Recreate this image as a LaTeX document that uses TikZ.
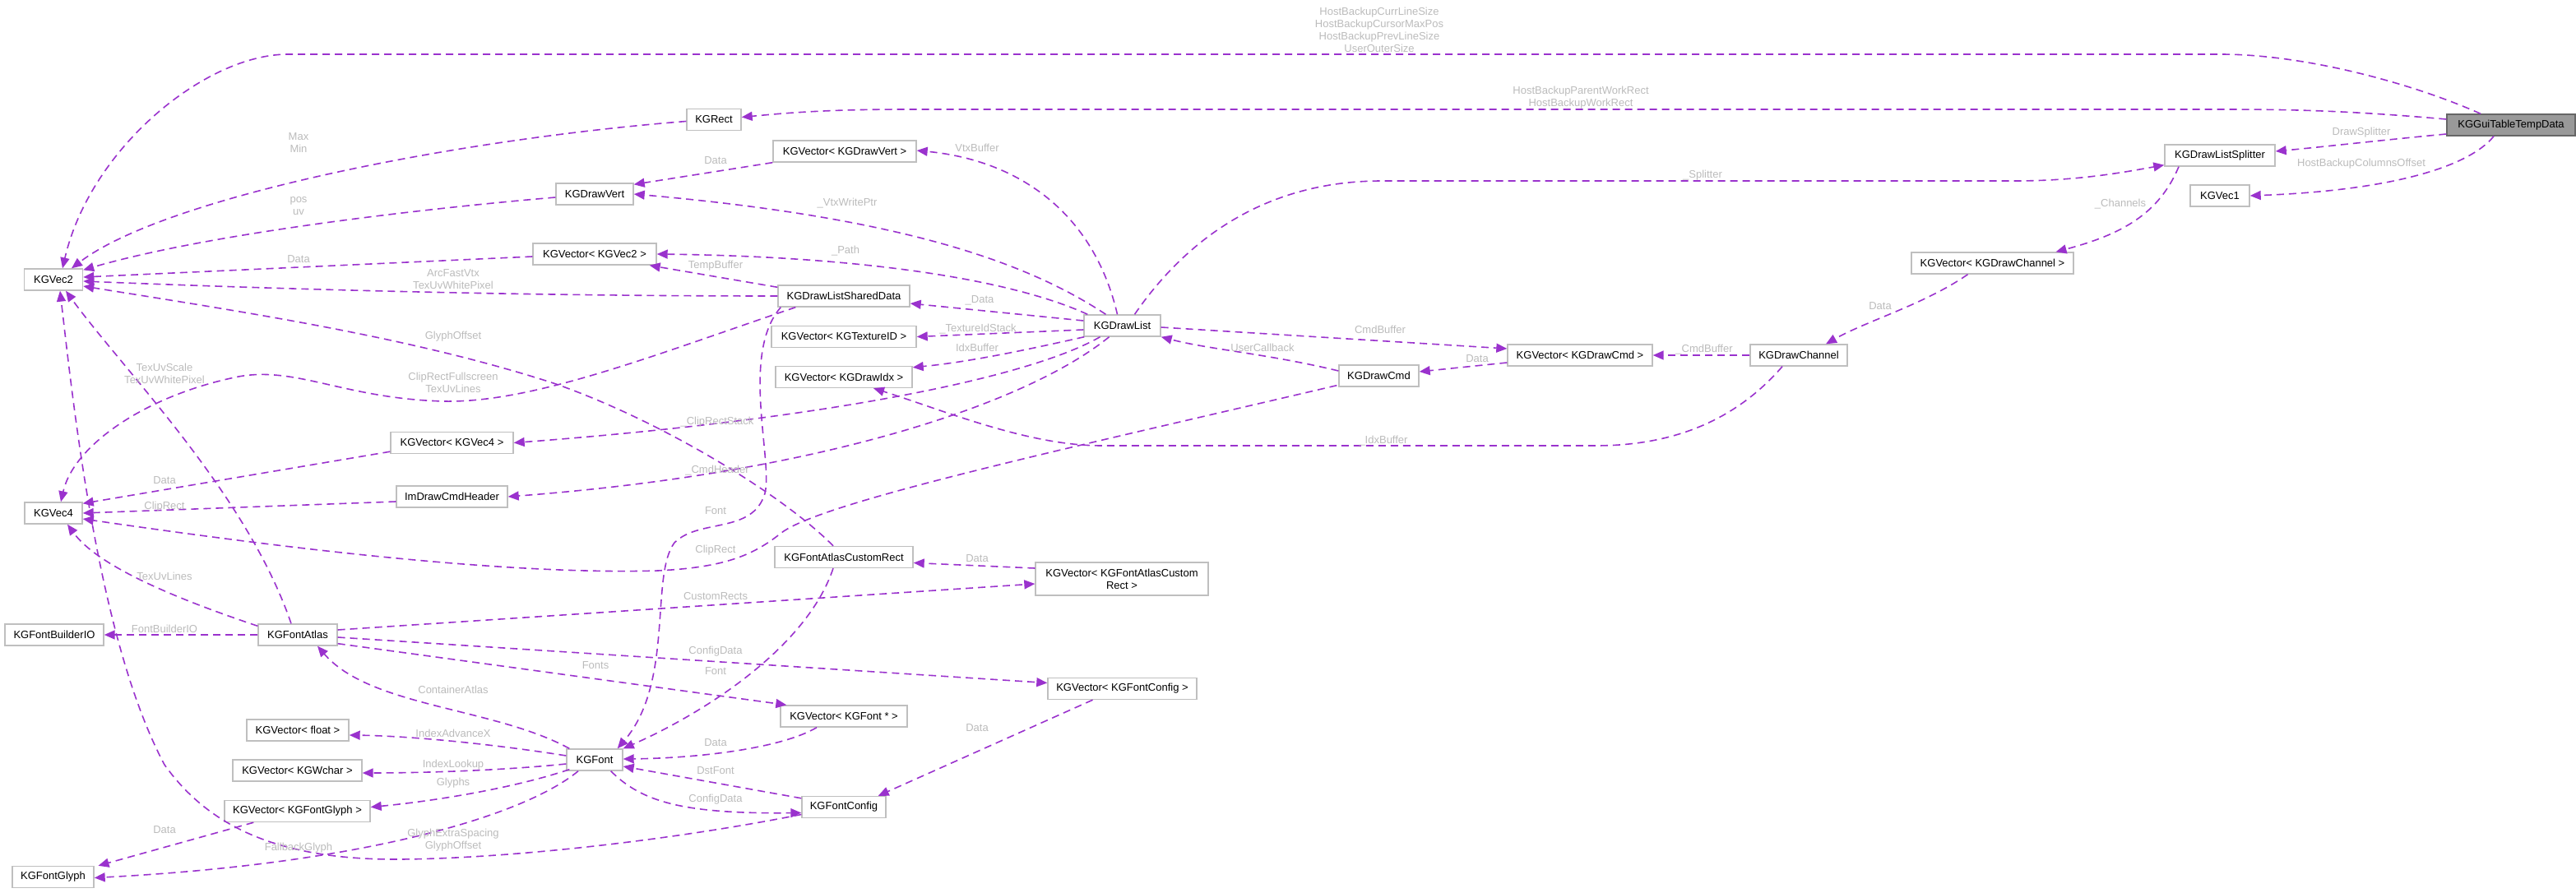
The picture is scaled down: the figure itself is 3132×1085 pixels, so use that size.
\documentclass[tikz,border=0pt]{standalone}
\usepackage{fontspec}
\setmainfont{Liberation Sans}
\usetikzlibrary{arrows.meta,calc}
\definecolor{edgec}{HTML}{9A32CD}
\definecolor{lblc}{HTML}{BBBBBB}
\definecolor{boxc}{HTML}{BFBFBF}
\definecolor{rootfill}{HTML}{999999}
\definecolor{rootdraw}{HTML}{666666}
\begin{document}
\begin{tikzpicture}[x=1pt,y=-1pt,
  every node/.style={font=\fontsize{13}{15}\selectfont},
  box/.style={draw=boxc,fill=white,line width=1.4pt,minimum height=26pt,inner sep=0pt,anchor=center,text=black},
  edge/.style={draw=edgec,line width=1.6pt,dash pattern=on 9pt off 6pt,-{Triangle[length=13pt,width=11pt]}},
  lbl/.style={text=lblc,align=center,inner sep=0pt}]
\useasboundingbox (0,0) rectangle (3132,1085);
% nodes
\node[box,minimum width=156pt,fill=rootfill,draw=rootdraw] (root) at (3053,152) {KGGuiTableTempData};
\node[box,minimum width=134pt] (splitter) at (2699,189) {KGDrawListSplitter};
\node[box,minimum width=72pt] (vec1) at (2699,238) {KGVec1};
\node[box,minimum width=197pt] (vchan) at (2422.5,320) {KGVector< KGDrawChannel >};
\node[box,minimum width=118pt] (chan) at (2187,432) {KGDrawChannel};
\node[box,minimum width=176pt] (vcmd) at (1921,432) {KGVector< KGDrawCmd >};
\node[box,minimum width=97pt] (cmd) at (1676.5,457) {KGDrawCmd};
\node[box,minimum width=93pt] (dl) at (1364.5,396) {KGDrawList};
\node[box,minimum width=174pt] (vvert) at (1027,184) {KGVector< KGDrawVert >};
\node[box,minimum width=94pt] (vert) at (723,236) {KGDrawVert};
\node[box,minimum width=150pt] (vvec2) at (723,309) {KGVector< KGVec2 >};
\node[box,minimum width=160pt] (dlsd) at (1026,360) {KGDrawListSharedData};
\node[box,minimum width=176pt] (vtex) at (1026,409.5) {KGVector< KGTextureID >};
\node[box,minimum width=166pt] (vidx) at (1026,458.5) {KGVector< KGDrawIdx >};
\node[box,minimum width=149pt] (vvec4) at (549.5,538.5) {KGVector< KGVec4 >};
\node[box,minimum width=135pt] (hdr) at (549.5,604) {ImDrawCmdHeader};
\node[box,minimum width=70pt] (vec4) at (65,624) {KGVec4};
\node[box,minimum width=71pt] (vec2) at (65,340) {KGVec2};
\node[box,minimum width=66pt] (rect) at (868,145.5) {KGRect};
\node[box,minimum width=168pt] (car) at (1026,677.5) {KGFontAtlasCustomRect};
\node[box,minimum width=210pt,minimum height=40pt,align=center] (vcar) at (1364,704) {KGVector< KGFontAtlasCustom\\Rect >};
\node[box,minimum width=120pt] (fbio) at (66,772) {KGFontBuilderIO};
\node[box,minimum width=96pt] (atlas) at (362,772) {KGFontAtlas};
\node[box,minimum width=181pt] (vcfg) at (1364.5,837.5) {KGVector< KGFontConfig >};
\node[box,minimum width=154pt] (vfont) at (1026,871) {KGVector< KGFont * >};
\node[box,minimum width=124pt] (vfloat) at (362,888) {KGVector< float >};
\node[box,minimum width=157pt] (vwchar) at (361.5,937) {KGVector< KGWchar >};
\node[box,minimum width=177pt] (vglyph) at (361.5,986.5) {KGVector< KGFontGlyph >};
\node[box,minimum width=68pt] (font) at (723,924) {KGFont};
\node[box,minimum width=102pt] (fcfg) at (1026,981.5) {KGFontConfig};
\node[box,minimum width=99pt] (glyph) at (64.5,1066.5) {KGFontGlyph};
% edges
\draw[edge] ($(root.north)+(-37,0)$) .. controls (2930,100) and (2800,66) .. (2700,66) -- (350,66) .. controls (250,66) and (110,180) .. ($(vec2.north)+(11,0)$);
\draw[edge] ($(root.west)+(0,-7)$) .. controls (2850,134) and (2780,133) .. (2700,133) -- (1100,133) .. controls (1000,133) and (950,138) .. ($(rect.east)+(0,-3)$);
\draw[edge] ($(root.west)+(0,11)$) .. controls (2900,170) and (2830,178) .. ($(splitter.east)+(0,-5)$);
\draw[edge] ($(root.south)+(-21,0)$) .. controls (3000,205) and (2900,232) .. (vec1.east);
\draw[edge] ($(splitter.south)+(-50,0)$) .. controls (2625,260) and (2580,285) .. ($(vchan.north)+(77,0)$);
\draw[edge] ($(vchan.south)+(-30,0)$) .. controls (2340,370) and (2270,390) .. ($(chan.north)+(33,0)$);
\draw[edge] (chan.west) -- (vcmd.east);
\draw[edge] ($(chan.south)+(-20,0)$) .. controls (2120,500) and (2050,542) .. (1940,542) -- (1340,542) .. controls (1250,542) and (1150,500) .. ($(vidx.south)+(36,0)$);
\draw[edge] ($(dl.north)+(15,0)$) .. controls (1450,280) and (1550,220) .. (1680,220) -- (2450,220) .. controls (2530,220) and (2590,208) .. ($(splitter.south west)+(0,-2)$);
\draw[edge] ($(dl.north)+(-6,0)$) .. controls (1330,260) and (1240,195) .. ($(vvert.east)+(0,-1)$);
\draw[edge] ($(dl.north)+(-20,0)$) .. controls (1250,320) and (1100,265) .. (vert.east);
\draw[edge] ($(dl.north west)+(5,0)$) .. controls (1230,340) and (1050,312) .. (vvec2.east);
\draw[edge] ($(dl.west)+(0,-6)$) -- ($(dlsd.east)+(0,9)$);
\draw[edge] ($(dl.west)+(0,5)$) -- (vtex.east);
\draw[edge] ($(dl.south west)+(1,0)$) .. controls (1250,425) and (1180,440) .. ($(vidx.north east)+(0,2)$);
\draw[edge] ($(dl.south)+(-27,0)$) .. controls (1250,460) and (1000,510) .. (vvec4.east);
\draw[edge] ($(dl.south)+(-16,0)$) .. controls (1250,490) and (1000,575) .. (hdr.east);
\draw[edge] ($(dl.east)+(0,2)$) -- ($(vcmd.west)+(0,-8)$);
\draw[edge] ($(cmd.west)+(0,-6)$) .. controls (1540,430) and (1470,425) .. (dl.south east);
\draw[edge] ($(vcmd.west)+(0,9)$) -- ($(cmd.east)+(0,-5)$);
\draw[edge] ($(cmd.south west)+(-2,-2)$) .. controls (1300,545) and (1000,610) .. (950,648) .. controls (915,676) and (880,690) .. (800,694) .. controls (600,700) and (300,660) .. ($(vec4.east)+(0,7)$);
\draw[edge] ($(dlsd.north west)+(0,3)$) -- ($(vvec2.south east)+(-9,0)$);
\draw[edge] (dlsd.west) .. controls (600,360) and (300,350) .. ($(vec2.east)+(0,2)$);
\draw[edge] ($(dlsd.south west)+(22,0)$) .. controls (800,430) and (650,490) .. (540,488) .. controls (420,485) and (360,445) .. (290,458) .. controls (180,480) and (90,540) .. ($(vec4.north)+(9,0)$);
\draw[edge] ($(dlsd.south west)+(4,0)$) .. controls (900,430) and (940,560) .. (930,600) .. controls (915,650) and (850,630) .. (820,660) .. controls (790,700) and (820,830) .. ($(font.north east)+(-7,0)$);
\draw[edge] ($(car.north)+(-13,0)$) .. controls (950,600) and (800,510) .. (673,466) .. controls (500,410) and (300,380) .. ($(vec2.east)+(0,8)$);
\draw[edge] ($(vcar.west)+(0,-13)$) -- ($(car.east)+(0,7)$);
\draw[edge] ($(car.south)+(-13,0)$) .. controls (980,790) and (850,870) .. (font.north east);
\draw[edge] (vvert.south west) -- ($(vert.north east)+(0,2)$);
\draw[edge] ($(vert.west)+(0,4)$) .. controls (500,255) and (250,285) .. ($(vec2.north east)+(0,2)$);
\draw[edge] ($(vvec2.west)+(0,3)$) -- ($(vec2.east)+(0,-3)$);
\draw[edge] ($(rect.west)+(0,2)$) .. controls (550,170) and (200,240) .. ($(vec2.north)+(22,0)$);
\draw[edge] ($(vvec4.south west)+(0,-3)$) -- ($(vec4.north east)+(0,2)$);
\draw[edge] ($(hdr.west)+(0,6)$) -- (vec4.east);
\draw[edge] ($(atlas.north west)+(0,3)$) .. controls (220,730) and (120,690) .. ($(vec4.south)+(17,0)$);
\draw[edge] ($(atlas.north)+(-8,0)$) .. controls (300,600) and (150,450) .. ($(vec2.south)+(15,0)$);
\draw[edge] (atlas.west) -- (fbio.east);
\draw[edge] ($(atlas.east)+(0,-6)$) -- ($(vcar.west)+(0,6)$);
\draw[edge] ($(atlas.east)+(0,3)$) -- ($(vcfg.west)+(0,-7)$);
\draw[edge] ($(atlas.south east)+(0,-3)$) -- ($(vfont.north west)+(8,0)$);
\draw[edge] ($(font.north west)+(4,0)$) .. controls (600,860) and (450,860) .. ($(atlas.south)+(24,0)$);
\draw[edge] ($(font.west)+(0,-5)$) .. controls (600,905) and (500,895) .. ($(vfloat.east)+(0,6)$);
\draw[edge] ($(font.west)+(0,5)$) .. controls (600,938) and (500,940) .. ($(vwchar.east)+(0,3)$);
\draw[edge] ($(font.south west)+(4,-2)$) .. controls (620,960) and (520,975) .. ($(vglyph.east)+(0,-5)$);
\draw[edge] ($(font.south)+(-20,0)$) .. controls (640,990) and (450,1050) .. ($(glyph.east)+(0,1)$);
\draw[edge] ($(fcfg.west)+(0,9)$) .. controls (800,1025) and (600,1045) .. (480,1045) .. controls (330,1045) and (250,1000) .. (200,930) .. controls (120,780) and (90,500) .. ($(vec2.south)+(8,0)$);
\draw[edge] ($(vglyph.south west)+(36,0)$) -- ($(glyph.north)+(55,0)$);
\draw[edge] ($(vfont.south)+(-33,0)$) .. controls (950,910) and (850,922) .. ($(font.east)+(0,-1)$);
\draw[edge] ($(fcfg.north west)+(0,3)$) -- ($(font.east)+(0,8)$);
\draw[edge] ($(font.south east)+(-15,0)$) .. controls (780,975) and (830,990) .. ($(fcfg.west)+(0,7)$);
\draw[edge] ($(vcfg.south)+(-36,0)$) -- ($(fcfg.north east)+(-10,0)$);
% labels
\node[lbl] (l1) at (1677,36) {HostBackupCurrLineSize\\HostBackupCursorMaxPos\\HostBackupPrevLineSize\\UserOuterSize};
\node[lbl] (l2) at (1922,119) {HostBackupParentWorkRect\\HostBackupWorkRect};
\node[lbl] (l3) at (2871,161) {DrawSplitter};
\node[lbl] (l4) at (2871,199) {HostBackupColumnsOffset};
\node[lbl] (l5) at (2578,248) {\_Channels};
\node[lbl] (l6) at (2286,372) {Data};
\node[lbl] (l7) at (2072,425) {\_CmdBuffer};
\node[lbl] (l8) at (1682,536) {\_IdxBuffer};
\node[lbl] (l9) at (2070,213) {\_Splitter};
\node[lbl] (l10) at (1188,180) {VtxBuffer};
\node[lbl] (l11) at (1030,247) {\_VtxWritePtr};
\node[lbl] (l12) at (1028,305) {\_Path};
\node[lbl] (l13) at (1191,365) {\_Data};
\node[lbl] (l14) at (1189,400) {\_TextureIdStack};
\node[lbl] (l15) at (1188,423) {IdxBuffer};
\node[lbl] (l16) at (872,513) {\_ClipRectStack};
\node[lbl] (l17) at (872,572) {\_CmdHeader};
\node[lbl] (l18) at (1678,401) {CmdBuffer};
\node[lbl] (l19) at (1535,423) {UserCallback};
\node[lbl] (l20) at (1796,436) {Data};
\node[lbl] (l21) at (870,669) {ClipRect};
\node[lbl] (l22) at (870,323) {TempBuffer};
\node[lbl] (l23) at (551,340) {ArcFastVtx\\TexUvWhitePixel};
\node[lbl] (l24) at (551,465) {ClipRectFullscreen\\TexUvLines};
\node[lbl] (l25) at (870,621) {Font};
\node[lbl] (l26) at (551,409) {GlyphOffset};
\node[lbl] (l27) at (1188,679) {Data};
\node[lbl] (l28) at (870,816) {Font};
\node[lbl] (l29) at (870,195) {Data};
\node[lbl] (l30) at (363,251) {pos\\uv};
\node[lbl] (l31) at (363,315) {Data};
\node[lbl] (l32) at (363,174) {Max\\Min};
\node[lbl] (l33) at (200,584) {Data};
\node[lbl] (l34) at (200,616) {ClipRect};
\node[lbl] (l35) at (200,701) {TexUvLines};
\node[lbl] (l36) at (200,454) {TexUvScale\\TexUvWhitePixel};
\node[lbl] (l37) at (200,765) {FontBuilderIO};
\node[lbl] (l38) at (870,725) {CustomRects};
\node[lbl] (l39) at (870,792) {ConfigData};
\node[lbl] (l40) at (724,809) {Fonts};
\node[lbl] (l41) at (551,839) {ContainerAtlas};
\node[lbl] (l42) at (551,892) {IndexAdvanceX};
\node[lbl] (l43) at (551,930) {IndexLookup};
\node[lbl] (l44) at (551,952) {Glyphs};
\node[lbl] (l45) at (363,1031) {FallbackGlyph};
\node[lbl] (l46) at (551,1022) {GlyphExtraSpacing\\GlyphOffset};
\node[lbl] (l47) at (200,1009) {Data};
\node[lbl] (l48) at (870,903) {Data};
\node[lbl] (l49) at (870,937) {DstFont};
\node[lbl] (l50) at (870,972) {ConfigData};
\node[lbl] (l51) at (1188,885) {Data};
\end{tikzpicture}
\end{document}
